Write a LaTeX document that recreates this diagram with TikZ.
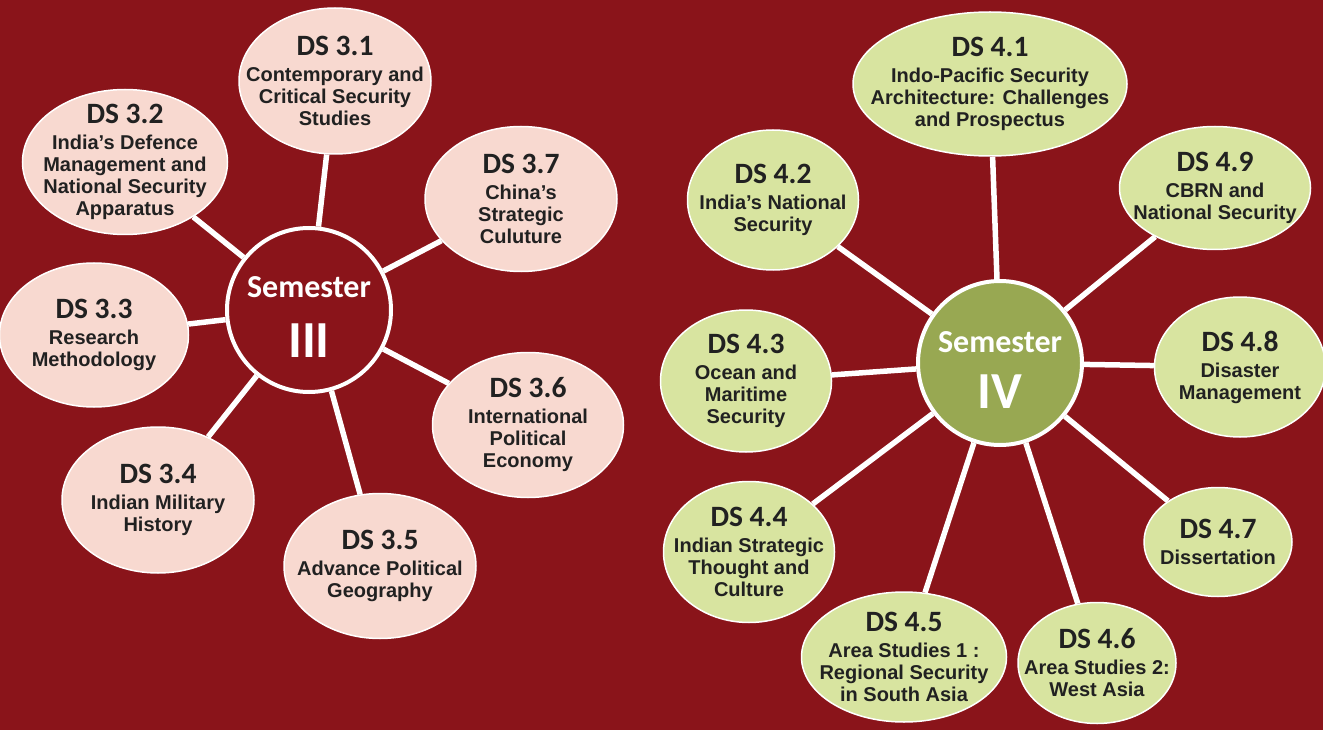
\documentclass[tikz,border=0pt]{standalone}
\usepackage{fontspec}
\setmainfont{Liberation Sans}
\newfontfamily\calib{Carlito}
\usetikzlibrary{shapes.geometric}

\definecolor{semred}{RGB}{138,20,26}
\definecolor{pinkfill}{RGB}{248,217,208}
\definecolor{leaffill}{RGB}{216,228,160}
\definecolor{hubgreen}{RGB}{152,168,82}
\definecolor{inkds}{RGB}{33,33,33}

\newcommand{\dsbody}{\fontsize{20}{22}\selectfont\bfseries}
\newcommand{\dstitle}{\calib\fontsize{29.5}{30}\selectfont\bfseries}
\newcommand{\semfont}{\calib\fontsize{32}{37}\selectfont\bfseries}
\newcommand{\numfont}{\calib\fontsize{52}{52}\selectfont\bfseries}
% one course bubble: name, centre, width, height, text
\newcommand{\dsnode}[5]{\node[dsbox,minimum width=#3pt,minimum height=#4pt,
  label={[dstext]center:{#5}}] (#1) at (#2) {};}

\begin{document}
\begin{tikzpicture}[x=1pt,y=-1pt,
  hub/.style={circle,draw=white,line width=4pt,minimum size=164pt,inner sep=0pt},
  dsbox/.style={ellipse,draw=white,line width=1.5pt,inner sep=0pt},
  dstext/.style={text=inkds,font=\dsbody,align=center},
  semtext/.style={text=white,font=\semfont,align=center},
  spoke/.style={white,line width=5.5pt}]
  \useasboundingbox (0,0) rectangle (1323,730);
  \fill[semred] (0,0) rectangle (1323,730);

  % Semester III
  \node[hub,fill=semred,label={[semtext,yshift=-7pt]center:Semester\\[23pt]{\numfont III}}]
    (hubL) at (309,310) {};
  \begin{scope}[dsbox/.append style={fill=pinkfill}]
    \dsnode{ds31}{335,81}{192}{146}{{\dstitle DS 3.1}\\[4pt]Contemporary and\\Critical Security\\Studies}
    \dsnode{ds32}{125,162}{205}{145}{{\dstitle DS 3.2}\\[4pt]India’s Defence\\Management and\\National Security\\Apparatus}
    \dsnode{ds33}{94,335}{189}{144}{{\dstitle DS 3.3}\\[4pt]Research\\Methodology}
    \dsnode{ds34}{158,500}{192}{146}{{\dstitle DS 3.4}\\[4pt]Indian Military\\History}
    \dsnode{ds35}{380,566}{192}{145}{{\dstitle DS 3.5}\\[4pt]Advance Political\\Geography}
    \dsnode{ds36}{528,425}{191}{145}{{\dstitle DS 3.6}\\[4pt]International\\Political\\Economy}
    \dsnode{ds37}{521,199}{192}{145}{{\dstitle DS 3.7}\\[4pt]China’s\\Strategic\\Culuture}
  \end{scope}
  \draw[spoke] (hubL) -- (ds31);
  \draw[spoke] (hubL) -- (ds32);
  \draw[spoke] (hubL) -- (ds33);
  \draw[spoke] (hubL) -- (ds34);
  \draw[spoke] (hubL) -- (ds35);
  \draw[spoke] (hubL) -- (ds36);
  \draw[spoke] (hubL) -- (ds37);

  % Semester IV
  \node[hub,fill=hubgreen,label={[semtext,yshift=-7.5pt]center:Semester\\[19pt]{\numfont IV}}]
    (hubR) at (1000,363) {};
  \begin{scope}[dsbox/.append style={fill=leaffill}]
    \dsnode{ds41}{990,84}{274}{144}{{\dstitle DS 4.1}\\[4pt]Indo-Pacific Security\\Architecture: Challenges\\and Prospectus}
    \dsnode{ds42}{773,200}{171}{140}{{\dstitle DS 4.2}\\[4pt]India’s National\\Security}
    \dsnode{ds43}{746,381}{171}{142}{{\dstitle DS 4.3}\\[4pt]Ocean and\\Maritime\\Security}
    \dsnode{ds44}{749,552}{171}{141}{{\dstitle DS 4.4}\\[4pt]Indian Strategic\\Thought and\\Culture}
    \dsnode{ds45}{904,657}{205}{130}{{\dstitle DS 4.5}\\[4pt]Area Studies 1 :\\Regional Security\\in South Asia}
    \dsnode{ds46}{1097,663}{158}{121}{{\dstitle DS 4.6}\\[4pt]Area Studies 2:\\West Asia}
    \dsnode{ds47}{1218,542}{148}{109}{{\dstitle DS 4.7}\\[4pt]Dissertation}
    \dsnode{ds48}{1240,367}{171}{140}{{\dstitle DS 4.8}\\[4pt]Disaster\\Management}
    \dsnode{ds49}{1215,188}{191}{123}{{\dstitle DS 4.9}\\[4pt]CBRN and\\National Security}
  \end{scope}
  \draw[spoke] (hubR) -- (ds41);
  \draw[spoke] (hubR) -- (ds42);
  \draw[spoke] (hubR) -- (ds43);
  \draw[spoke] (hubR) -- (ds44);
  \draw[spoke] (hubR) -- (ds45);
  \draw[spoke] (hubR) -- (ds46);
  \draw[spoke] (hubR) -- (ds47);
  \draw[spoke] (hubR) -- (ds48);
  \draw[spoke] (hubR) -- (ds49);
\end{tikzpicture}
\end{document}
